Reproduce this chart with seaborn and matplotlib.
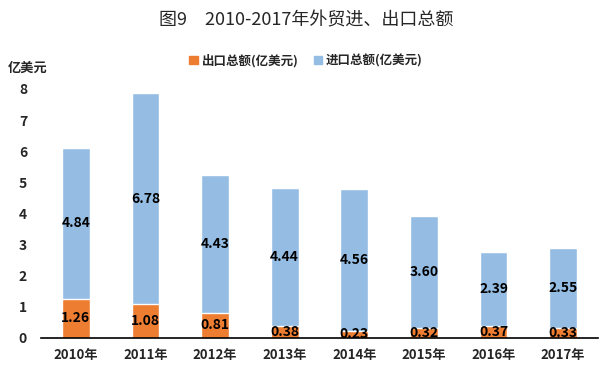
import matplotlib
matplotlib.use("Agg")
import matplotlib.pyplot as plt
import seaborn as sns
import pandas as pd
import numpy as np
from matplotlib.patches import Patch

years = ["2010年", "2011年", "2012年", "2013年", "2014年", "2015年", "2016年", "2017年"]
exports = [1.26, 1.08, 0.81, 0.38, 0.23, 0.32, 0.37, 0.33]
imports = [4.84, 6.78, 4.43, 4.44, 4.56, 3.60, 2.39, 2.55]
yticks = [0, 1, 2, 3, 4, 5, 6, 7, 8]

sns.set_theme(style="white")
plt.rcParams['font.family'] = ['Noto Sans CJK SC', 'DejaVu Sans']

c_exp = "#ED7D31"
c_imp = "#95BDE3"

df = pd.DataFrame({"year": years, "export": exports, "import": imports})
df["total"] = df["export"] + df["import"]

fig = plt.figure(figsize=(6.12, 3.75), dpi=100)
ax = fig.add_axes([0.067, 0.099, 0.910, 0.664])

sns.barplot(data=df, x="year", y="total", color=c_imp, width=0.4, ax=ax, saturation=1)
sns.barplot(data=df, x="year", y="export", color=c_exp, width=0.4, ax=ax, saturation=1)

for i, (e, m) in enumerate(zip(exports, imports)):
    ax.text(i, e / 2, f"{e:.2f}", ha="center", va="center", fontsize=10, fontweight="bold", color="black")
    ax.text(i, e + m / 2, f"{m:.2f}", ha="center", va="center", fontsize=10, fontweight="bold", color="black")

ax.set_ylim(0, 8)
ax.set_xlim(-0.5, len(years) - 0.5)
ax.set_yticks(yticks)
ax.set_yticklabels([str(t) for t in yticks], fontweight="bold", fontsize=10)
ax.set_xticks(range(len(years)))
ax.set_xticklabels(years, fontweight="bold", fontsize=9.5)
ax.set_xticks(np.arange(-0.5, len(years)), minor=True)
ax.tick_params(axis="x", which="major", length=0, pad=7)
ax.tick_params(axis="x", which="minor", length=5, direction="in", color="black", width=1)
ax.tick_params(axis="y", length=0, pad=10)
ax.set_xlabel("")
ax.set_ylabel("")
for s in ["top", "right", "left"]:
    ax.spines[s].set_visible(False)
ax.spines["bottom"].set_color("black")
ax.spines["bottom"].set_linewidth(1.2)

fig.text(0.5, 0.945, "图9　2010-2017年外贸进、出口总额", ha="center", va="center", fontsize=13)
fig.text(0.013, 0.818, "亿美元", ha="left", va="center", fontsize=9.5, fontweight="bold")

handles = [Patch(color=c_exp, label="出口总额(亿美元)"), Patch(color=c_imp, label="进口总额(亿美元)")]
fig.legend(handles=handles, loc="center", bbox_to_anchor=(0.5, 0.838), ncol=2, frameon=False,
           prop={"weight": "bold", "size": 9}, handlelength=0.7, handleheight=0.7,
           handletextpad=0.3, columnspacing=1.2)

fig.savefig("out.png", dpi=100)
